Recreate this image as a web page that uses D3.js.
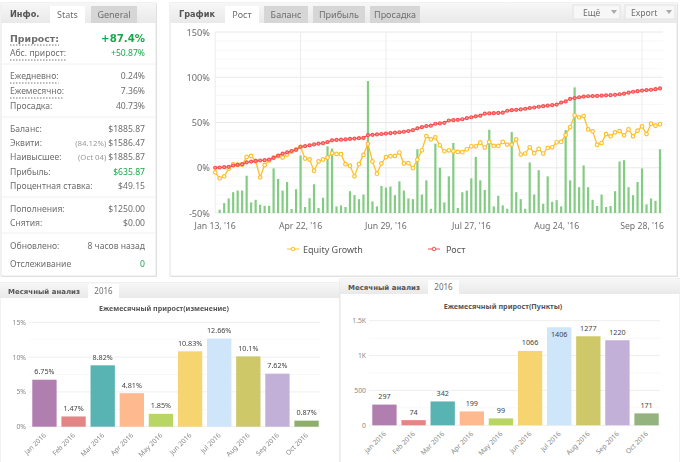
<!DOCTYPE html>
<html>
<head>
<meta charset="utf-8">
<script src="https://cdn.jsdelivr.net/npm/d3@7"></script>
<style>
  html, body { margin: 0; padding: 0; background: #fff; }
  svg { display: block; font-family: "Noto Sans", sans-serif; filter: blur(0.3px); }
</style>
</head>
<body>
<svg id="chart" width="680" height="462"></svg>
<script>
// Growth chart data (one value per point, percent)
const growthTicks = ["Jan 13, '16", "Apr 22, '16", "Jun 29, '16", "Jul 27, '16", "Aug 24, '16", "Sep 28, '16"];
const growthTickIndex = [0, 19, 38, 57, 76, 95];
const growthAxis = [-50, 0, 50, 100, 150];

const equityGrowth = [-5.1, -11.7, -9.5, -1, 3.6, 3.3, 3.3, 12, 13.1, 7.3,
  -10.6, 2.9, 8, 11.3, 12.8, 11.3, 14.6, 17.9, 20, 23,
  10.2, 9.1, -3.3, 6.9, 9.1, 11.3, 16, 15.3, 15, 4,
  2.2, -9.5, 4, 14.2, 26.6, 6.9, -6.6, 4.7, 11.7, 12.8,
  13.1, 16.8, 4.7, 5.1, -0.4, 8.8, 19.3, 35, 31.4, 33.6,
  24.8, 18.2, 19.3, 18.2, 17.5, 17.2, 20.4, 23.7, 23.7, 27.7,
  22.3, 28.5, 24.1, 24.1, 28.5, 25.6, 25.6, 31.4, 14.6, 15.7,
  22.6, 16, 20.8, 15.7, 21.9, 22.6, 28.1, 28.5, 36, 45,
  57.9, 55.7, 57.1, 42.4, 40.2, 25.4, 27.3, 37.2, 34.7, 39.1,
  40.5, 35.8, 42.4, 34.7, 40.9, 45.7, 37.2, 48.6, 46.4, 48];

const growth = [0, 0.3, 0.6, 1, 2.5, 3.2, 4, 6, 6.8, 7.5,
  8, 8.4, 9, 11, 13.5, 15.5, 17, 18.5, 20, 23.2,
  23.8, 24.8, 25.8, 26.6, 27.2, 28.4, 30.3, 30.8, 31, 31.3,
  31.8, 32.2, 32.7, 33, 36, 36.4, 36.8, 37.3, 37.8, 38.2,
  38.8, 39.2, 39.8, 40.6, 41.5, 43.6, 44.8, 46, 46.5, 48.6,
  49, 49.6, 52.2, 52.6, 53, 53.6, 54.8, 55.8, 56.8, 57.5,
  59.7, 60, 60.3, 60.6, 60.9, 63, 63.6, 64, 64.5, 65.2,
  66, 66.6, 67.4, 68, 68.6, 69.1, 69.8, 72, 73.3, 76.2,
  77, 77.9, 78.6, 79, 79.2, 79.4, 79.6, 80, 80.2, 80.6,
  81.2, 81.8, 83, 84, 84.6, 85.3, 85.8, 86.2, 86.8, 87.7];

// Bars start at the second point, they all grow from the -50% line
const dailyBars = [-46.4, -39.1, -33.9, -27, -25.2, -25.2, -8.8, -38.3, -35.4, -40.9,
  -42, -42, -0.7, -12.4, -25.2, -15.7, -45.6, -23.7, 13.5, -43.4,
  -33.6, -18.2, -44.5, -33.2, 23.7, 21.2, -42.7, -41.6, -43.4, -25.9,
  -30.3, -34.7, -29.6, 95.8, -37.2, -42.7, -20.1, -21.9, -20.8, -30.3,
  -15, -25.2, -33.9, -34.7, 20.4, -29.6, -13.9, -45.3, 26.6, 0,
  -38.3, -9.5, 27.4, -44.5, -27, -25.2, -11.7, 12, -13.9, -24.5,
  42, -42.7, -31, -41.6, -45.3, 39.4, -27, -34.7, -45.3, 5.8,
  -29.6, -2.6, -39.8, -9.5, -37.6, -35.8, -42.7, 41.7, -13.9, 88.8,
  -21.5, 2.6, -21.5, -35.4, -42.3, -29.6, -43.4, -42.3, -25.9, 6.9,
  8.4, -21.5, -30.3, -15.7, -0.7, -40.5, -33.9, -36.5, 20.4];

// Monthly charts
const months = ["Jan 2016", "Feb 2016", "Mar 2016", "Apr 2016", "May 2016", "Jun 2016", "Jul 2016", "Aug 2016", "Sep 2016", "Oct 2016"];
const monthlyChange = [6.75, 1.47, 8.82, 4.81, 1.85, 10.83, 12.66, 10.1, 7.62, 0.87];
const monthlyPips = [297, 74, 342, 199, 99, 1066, 1406, 1277, 1220, 171];

// Stats panel: label, note, value
const statRows = [
  ["Абс. прирост:", "", "+50.87%"],
  ["Ежедневно:", "", "0.24%"],
  ["Ежемесячно:", "", "7.36%"],
  ["Просадка:", "", "40.73%"],
  ["Баланс:", "", "$1885.87"],
  ["Эквити:", "(84.12%)", "$1586.47"],
  ["Наивысшее:", "(Oct 04)", "$1885.87"],
  ["Прибыль:", "", "$635.87"],
  ["Процентная ставка:", "", "$49.15"],
  ["Пополнения:", "", "$1250.00"],
  ["Снятия:", "", "$0.00"],
  ["Обновлено:", "", "8 часов назад"],
  ["Отслеживание", "", "0"]
];
const statY = [53, 76, 91, 106, 129, 143, 157, 172, 186, 209, 223, 246, 264];
const statDotted = [0, 1, 2];
const statGreen = [0, 7, 12];
const statSeparators = [64, 117, 197, 233];

const barColors = ["#b07fb0", "#e48585", "#58b3b3", "#ffb98f", "#b9d564", "#f6d46f", "#cfe5fa", "#cfc868", "#c3b0d8"];

const svg = d3.select("#chart");
const gray = "#6e6e6e";
const boldFont = "'DejaVu Sans', sans-serif";

// Panel with a gray header strip
function panel(x, y, w, h, headH) {
    svg.append("rect").attr("x", x + 1).attr("y", y + 1).attr("width", w).attr("height", h).attr("fill", "#ddd");
    svg.append("rect").attr("x", x).attr("y", y).attr("width", w).attr("height", h)
        .attr("fill", "#fff").attr("stroke", "#e4e4e4");
    const id = "head" + x + y;
    const grad = svg.append("linearGradient").attr("id", id).attr("x1", 0).attr("x2", 0).attr("y1", 0).attr("y2", 1);
    grad.append("stop").attr("offset", 0).attr("stop-color", "#f7f7f7");
    grad.append("stop").attr("offset", 1).attr("stop-color", "#e9e9e9");
    svg.append("rect").attr("x", x).attr("y", y).attr("width", w).attr("height", headH)
        .attr("fill", `url(#${id})`);
}

function tab(x, y, w, h, label, active, size = 9) {
    svg.append("rect").attr("x", x).attr("y", y).attr("width", w).attr("height", h)
        .attr("fill", active ? "#fff" : "#d6d6d6");
    svg.append("text").attr("x", x + w / 2).attr("y", y + h / 2 + 3.2).attr("text-anchor", "middle")
        .attr("font-size", size).attr("fill", gray).text(label);
}

function heading(x, y, label, size) {
    svg.append("text").attr("x", x).attr("y", y).attr("font-size", size).attr("font-family", boldFont)
        .attr("font-weight", "bold").attr("fill", "#555").text(label);
}

/* Left stats panel */
panel(1, 3, 155, 273, 20);
heading(10, 17, "Инфо.", 8.2);
tab(50, 6, 35, 17, "Stats", true);
tab(91, 6, 46, 17, "General", false);

svg.append("text").attr("x", 10).attr("y", 41.5).attr("font-size", 9.4).attr("font-family", boldFont)
    .attr("font-weight", "bold").attr("fill", gray).text("Прирост:");
svg.append("text").attr("x", 145).attr("y", 42).attr("text-anchor", "end").attr("font-size", 10.2)
    .attr("font-family", boldFont).attr("font-weight", "bold").attr("fill", "#16a94a").text("+87.4%");
svg.append("line").attr("x1", 10).attr("x2", 59).attr("y1", 45).attr("y2", 45)
    .attr("stroke", "#777").attr("stroke-dasharray", "1.5 1.5");

statRows.forEach((row, i) => {
    const y = statY[i];
    const label = svg.append("text").attr("x", 10).attr("y", y + 3).attr("font-size", 8.6)
        .attr("fill", gray).text(row[0]);
    const value = svg.append("text").attr("x", 145).attr("y", y + 3).attr("text-anchor", "end")
        .attr("font-size", 8.6).attr("fill", statGreen.includes(i) ? "#16a94a" : gray).text(row[2]);
    if (statDotted.includes(i)) {
        const w = label.node().getComputedTextLength();
        svg.append("line").attr("x1", 10).attr("x2", 10 + w).attr("y1", y + 7).attr("y2", y + 7)
            .attr("stroke", "#777").attr("stroke-dasharray", "1.5 1.5");
    }
    if (row[1]) {
        svg.append("text").attr("x", 145 - value.node().getComputedTextLength() - 2).attr("y", y + 3)
            .attr("text-anchor", "end").attr("font-size", 7.8).attr("fill", "#999").text(row[1]);
    }
});
svg.selectAll(".stat-sep").data(statSeparators).join("line")
    .attr("x1", 2).attr("x2", 155).attr("y1", d => d).attr("y2", d => d).attr("stroke", "#f0f0f0");

/* Main growth panel */
panel(170, 3, 507, 273, 20);
heading(179, 17, "График", 8.2);
tab(225, 6, 34, 17, "Рост", true);
tab(264, 6, 44, 17, "Баланс", false);
tab(313, 6, 52, 17, "Прибыль", false);
tab(370, 6, 50, 17, "Просадка", false);

[[573, 47, "Ещё", 583], [625, 50, "Export", 631]].forEach(b => {
    svg.append("rect").attr("x", b[0]).attr("y", 5).attr("width", b[1]).attr("height", 14)
        .attr("fill", "#f7f7f7").attr("stroke", "#e2e2e2");
    svg.append("text").attr("x", b[3]).attr("y", 15.5).attr("font-size", 8.6).attr("fill", gray).text(b[2]);
    svg.append("path").attr("d", d3.line()([[b[0] + b[1] - 9, 10], [b[0] + b[1] - 3, 10], [b[0] + b[1] - 6, 14]]))
        .attr("fill", "#aaa");
});

const gx = d3.scaleLinear().domain([0, 99]).range([215.2, 660]);
const gy = d3.scaleLinear().domain([-50, 150]).range([213, 32]);

// faint horizontal lines every 10%
svg.append("g").selectAll("line").data(d3.range(-50, 151, 10)).join("line")
    .attr("x1", 215).attr("x2", 663).attr("y1", d => gy(d)).attr("y2", d => gy(d))
    .attr("stroke", d => d % 50 === 0 ? "#e8e8e8" : "#f7f7f7");
svg.append("g").selectAll("line").data(growthTickIndex).join("line")
    .attr("x1", d => gx(d)).attr("x2", d => gx(d)).attr("y1", 32).attr("y2", 213).attr("stroke", "#ececec");

svg.append("g").selectAll("text").data(growthAxis).join("text")
    .attr("x", 210).attr("y", d => gy(d) + 3.5).attr("text-anchor", "end")
    .attr("font-size", 9.2).attr("fill", gray).text(d => d + "%");
svg.append("g").selectAll("text").data(growthTickIndex).join("text")
    .attr("x", d => gx(d)).attr("y", 229).attr("text-anchor", "middle")
    .attr("font-size", 8.7).attr("fill", gray).text((d, i) => growthTicks[i]);

svg.append("g").selectAll("rect").data(dailyBars).join("rect")
    .attr("x", (d, i) => gx(i + 1) - 1.1).attr("width", 2.2)
    .attr("y", d => gy(d)).attr("height", d => gy(-50) - gy(d)).attr("fill", "#84cc84");

function growthLine(values, color, r, fill) {
    const line = d3.line().x((d, i) => gx(i)).y(d => gy(d));
    svg.append("path").attr("d", line(values)).attr("fill", "none").attr("stroke", color).attr("stroke-width", 1.3);
    svg.append("g").selectAll("circle").data(values).join("circle")
        .attr("cx", (d, i) => gx(i)).attr("cy", d => gy(d)).attr("r", r)
        .attr("fill", fill).attr("stroke", color).attr("stroke-width", 1.2);
}
growthLine(equityGrowth, "#fdc02a", 1.8, "#fff");
growthLine(growth, "#f65050", 1.5, "#ff9a9a");

// legend
[[287, "#fdc02a", "Equity Growth"], [428, "#f65050", "Рост"]].forEach(l => {
    svg.append("line").attr("x1", l[0]).attr("x2", l[0] + 12).attr("y1", 249).attr("y2", 249).attr("stroke", l[1]);
    svg.append("circle").attr("cx", l[0] + 6).attr("cy", 249).attr("r", 1.8).attr("fill", "#fff").attr("stroke", l[1]);
    svg.append("text").attr("x", l[0] + (l[2] === "Рост" ? 18 : 16)).attr("y", 252.5).attr("font-size", 9).attr("fill", "#555").text(l[2]);
});

/* Monthly bar charts */
function monthlyChart(opts) {
    panel(opts.left, opts.top, 340, 462 - opts.top + 2, 15);
    heading(opts.left + 8, opts.top + 11, "Месячный анализ", 7);
    tab(opts.left + 88, opts.top + 1, 31, 14, "2016", true, 8);
    svg.append("text").attr("x", opts.titleX).attr("y", opts.titleY).attr("text-anchor", "middle")
        .attr("font-size", opts.titleSize).attr("font-weight", "bold").attr("fill", "#555").text(opts.title);

    const x = d3.scaleBand().domain(months).range([opts.left + 29, opts.left + 322]).paddingInner(0.165).paddingOuter(0.113);
    const y = d3.scaleLinear().domain([0, opts.max]).range([opts.y0, opts.y1]);

    svg.append("g").selectAll("line").data(d3.range(0, opts.max + 1, opts.step / 2)).join("line")
        .attr("x1", opts.left + 29).attr("x2", opts.left + 320).attr("y1", d => y(d)).attr("y2", d => y(d))
        .attr("stroke", d => d % opts.step === 0 ? "#eee" : "#f8f8f8");
    svg.append("g").selectAll("text").data(d3.range(0, opts.max + 1, opts.step)).join("text")
        .attr("x", opts.left + 26).attr("y", d => y(d) + 2.5).attr("text-anchor", "end")
        .attr("font-size", 6.8).attr("fill", "#888").text(opts.tick);

    svg.append("g").selectAll("rect").data(opts.values).join("rect")
        .attr("x", (d, i) => x(months[i])).attr("width", x.bandwidth())
        .attr("y", d => y(d)).attr("height", d => opts.y0 - y(d))
        .attr("fill", (d, i) => i < barColors.length ? barColors[i] : opts.lastColor);

    svg.append("g").selectAll("text").data(opts.values).join("text")
        .attr("x", (d, i) => x(months[i]) + x.bandwidth() / 2)
        .attr("y", d => d === 1406 ? y(d) + 10 : y(d) - 5.5).attr("text-anchor", "middle")
        .attr("font-size", 7.2).attr("fill", "#444").text(d => d + opts.suffix);

    svg.append("g").selectAll("text").data(months).join("text")
        .attr("transform", d => `translate(${x(d) + x.bandwidth() / 2 + 2},${opts.y0 + 9}) rotate(-45)`)
        .attr("text-anchor", "end").attr("font-size", 6.8).attr("fill", "#888").text(d => d);
}

monthlyChart({ left: 0, top: 283, title: "Ежемесячный прирост(изменение)", titleX: 164, titleY: 311, titleSize: 7.1,
    values: monthlyChange, max: 15, step: 5, y0: 426.7, y1: 322.3, suffix: "%", tick: d => d + "%", lastColor: "#8fad6c" });
monthlyChart({ left: 340, top: 279, title: "Ежемесячный прирост(Пункты)", titleX: 503, titleY: 308.5, titleSize: 7.2,
    values: monthlyPips, max: 1500, step: 500, y0: 425.3, y1: 320.7, suffix: "",
    tick: d => d >= 1000 ? d / 1000 + "K" : d, lastColor: "#93b37f" });
</script>
</body>
</html>
